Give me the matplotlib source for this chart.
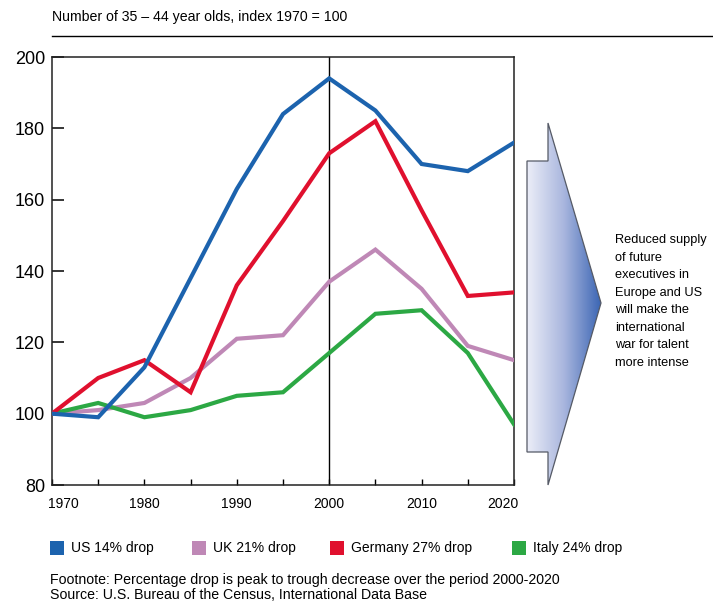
import numpy as np
import matplotlib
matplotlib.use("Agg")
import matplotlib.pyplot as plt
from matplotlib.patches import Polygon, Rectangle
from matplotlib.lines import Line2D
from matplotlib.transforms import ScaledTranslation
from matplotlib.colors import LinearSegmentedColormap

plt.rcParams['font.family'] = ['Liberation Sans Narrow', 'Liberation Sans', 'DejaVu Sans']

# ---- data ----
years = [1970, 1975, 1980, 1985, 1990, 1995, 2000, 2005, 2010, 2015, 2020]
us = [100, 99, 113, 138, 163, 184, 194, 185, 170, 168, 176]
uk = [100, 101, 103, 110, 121, 122, 137, 146, 135, 119, 115]
germany = [100, 110, 115, 106, 136, 154, 173, 182, 157, 133, 134]
italy = [100, 103, 99, 101, 105, 106, 117, 128, 129, 117, 97]

series_names = ["US 14% drop", "UK 21% drop", "Germany 27% drop", "Italy 24% drop"]
series_values = [us, uk, germany, italy]
series_colors = ["#1c63ae", "#bf88b6", "#e0102e", "#2ca844"]

y_ticks = [80, 100, 120, 140, 160, 180, 200]
x_labels = [1970, 1980, 1990, 2000, 2010, 2020]

title = "Number of 35 \u2013 44 year olds, index 1970 = 100"
note_lines = ["Footnote: Percentage drop is peak to trough decrease over the period 2000-2020",
              "Source: U.S. Bureau of the Census, International Data Base"]
arrow_text = ("Reduced supply\nof future\nexecutives in\nEurope and US\n"
              "will make the\ninternational\nwar for talent\nmore intense")

W, H = 713, 603
fig = plt.figure(figsize=(W / 100, H / 100), dpi=100)

def fx(px):
    return px / W

def fy(py):
    return 1 - py / H

ax = fig.add_axes([fx(52), fy(485), fx(514) - fx(52), fy(57) - fy(485)])

# draw order: UK, Italy, Germany, US
for idx in [1, 3, 2, 0]:
    ax.plot(years, series_values[idx], color=series_colors[idx], lw=3.0,
            solid_joinstyle='miter', zorder=3)

ax.set_xlim(1970, 2020)
ax.set_ylim(80, 200)
ax.axvline(2000, color='black', lw=1.0, zorder=2)

for s in ['left', 'right', 'top', 'bottom']:
    ax.spines[s].set_linewidth(1.1)
    ax.spines[s].set_color('#222222')

ax.set_yticks(y_ticks)
ax.set_yticklabels([str(v) for v in y_ticks])
ax.tick_params(axis='y', direction='in', length=8.5, width=1.1, labelsize=13, pad=5)
ax.set_xticks(x_labels)
ax.set_xticklabels([str(v) for v in x_labels])
ax.set_xticks([1975, 1985, 1995, 2005, 2015], minor=True)
ax.tick_params(axis='x', which='both', direction='in', length=4.5, width=1.0,
               labelsize=10, pad=9)

labs = ax.get_xticklabels()
labs[0].set_horizontalalignment('left')
labs[0].set_transform(labs[0].get_transform() + ScaledTranslation(-4 / 100, 0, fig.dpi_scale_trans))
labs[-1].set_horizontalalignment('right')
labs[-1].set_transform(labs[-1].get_transform() + ScaledTranslation(4 / 100, 0, fig.dpi_scale_trans))

# title and rule
fig.text(fx(52), fy(17), title, fontsize=10.2, ha='left', va='center')
fig.add_artist(Line2D([fx(52), fx(713)], [fy(36), fy(36)], color='black', lw=1.0))

# arrow with gradient
arrow_pts_px = [(527, 161), (548, 161), (548, 123), (601, 303), (548, 485),
                (548, 452), (527, 452)]
arrow_pts = [(fx(x), fy(y)) for x, y in arrow_pts_px]
aax = fig.add_axes([0, 0, 1, 1], zorder=0)
aax.set_xlim(0, 1)
aax.set_ylim(0, 1)
aax.axis('off')
aax.patch.set_alpha(0)
grad = np.linspace(0, 1, 256).reshape(1, -1)
cmap = LinearSegmentedColormap.from_list('arr', ['#eceef8', '#a9b6de', '#3c66b4'])
im = aax.imshow(grad, extent=[fx(527), fx(601), fy(485), fy(123)], cmap=cmap,
                aspect='auto', origin='lower')
poly = Polygon(arrow_pts, closed=True, transform=aax.transAxes, facecolor='none',
               edgecolor='#555a66', lw=0.9)
aax.add_patch(poly)
im.set_clip_path(poly)

fig.text(fx(615), fy(234), arrow_text, fontsize=9.2, ha='left', va='top', linespacing=1.62)

# legend
legend_sq_x = [50, 192, 330, 512]
for i in range(4):
    x0 = legend_sq_x[i]
    fig.add_artist(Rectangle((fx(x0), fy(555)), fx(14), 14 / H, facecolor=series_colors[i],
                             edgecolor='none', transform=fig.transFigure))
    fig.text(fx(x0 + 21), fy(548), series_names[i], fontsize=10, ha='left', va='center')

fig.text(fx(50), fy(580), note_lines[0], fontsize=10.2, ha='left', va='center')
fig.text(fx(50), fy(595), note_lines[1], fontsize=10.2, ha='left', va='center')

fig.savefig("out.png", dpi=100)
